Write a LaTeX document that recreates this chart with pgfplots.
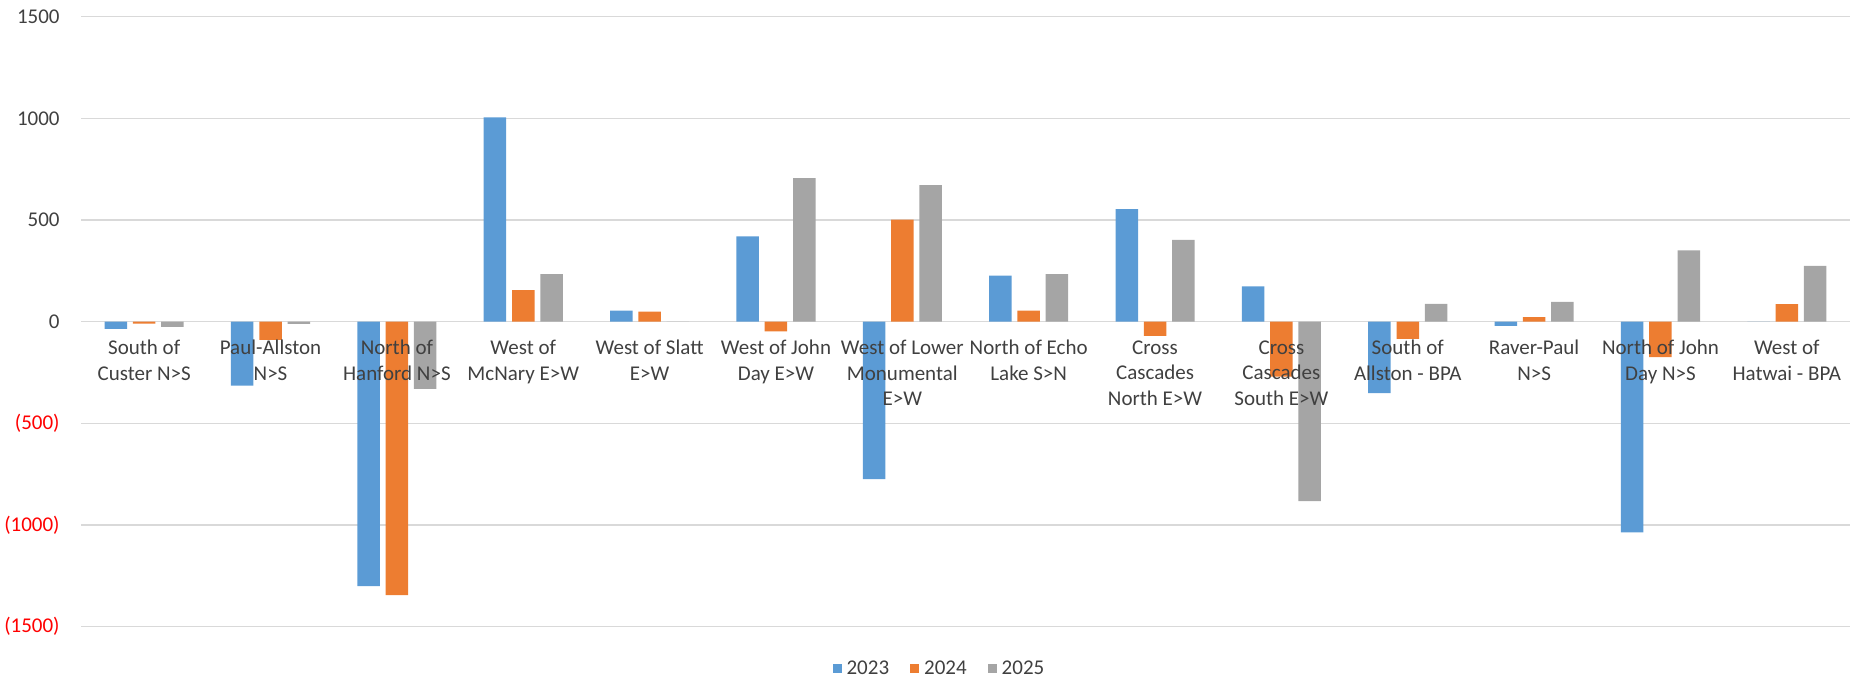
\documentclass[border=0pt]{standalone}
\usepackage{pgfplots}
\pgfplotsset{compat=1.18}
\usepackage{fontspec}
\setmainfont{Carlito}

\definecolor{c23}{HTML}{5B9BD5}
\definecolor{c24}{HTML}{ED7D31}
\definecolor{c25}{HTML}{A5A5A5}
\definecolor{gridc}{HTML}{D9D9D9}
\definecolor{txt}{HTML}{404040}
\definecolor{negred}{HTML}{FF0000}

% tick labels go above the bars, as in the source chart
\pgfplotsset{
  layers/labels on top/.define layer set={
    axis background,axis grid,axis ticks,axis lines,main,
    axis tick labels,axis descriptions,axis foreground
  }{
    grid style={/pgfplots/on layer=axis grid},
    tick style={/pgfplots/on layer=axis ticks},
    axis line style={/pgfplots/on layer=axis lines},
    label style={/pgfplots/on layer=axis descriptions},
    legend style={/pgfplots/on layer=axis descriptions},
    ticklabel style={/pgfplots/on layer=axis tick labels},
  },
}

% idx  y2023  y2024  y2025
\pgfplotstableread{
idx y2023 y2024 y2025
0   -35   -10   -26
1   -315  -89   -11
2   -1300 -1345 -331
3   1005  155   234
4   55    49    0
5   419   -47   706
6   -774  502   672
7   226   55    234
8   553   -70   402
9   174   -270  -883
10  -351  -85   88
11  -20   23    98
12  -1036 -174  351
13  0     87    274
}\flows

\begin{document}
\begin{tikzpicture}
\begin{axis}[
  set layers=labels on top,
  at={(40.5pt,26.15pt)}, anchor=south west,
  width=884.5pt, height=305pt, scale only axis,
  ybar=2.9pt, bar width=11.25pt,
  xmin=-0.5, xmax=13.5,
  ymin=-1500, ymax=1500,
  axis line style={draw=none},
  major tick length=0pt,
  ymajorgrids, grid style={gridc, line width=0.75pt},
  ytick={-1500,-1000,-500,0,500,1000,1500},
  yticklabels={\textcolor{negred}{(1500)},\textcolor{negred}{(1000)},\textcolor{negred}{(500)},0,500,1000,1500},
  yticklabel style={anchor=east, inner sep=0pt, xshift=-10.5pt, text=txt, font=\fontsize{10.5}{12.8}\selectfont},
  xtick=data,
  xticklabels={{South of\\Custer N>S},{Paul-Allston\\N>S},{North of\\Hanford N>S},{West of\\McNary E>W},{West of Slatt\\E>W},{West of John\\Day E>W},{West of Lower\\Monumental\\E>W},{North of Echo\\Lake S>N},{Cross\\Cascades\\North E>W},{Cross\\Cascades\\South E>W},{South of\\Allston - BPA},{Raver-Paul\\N>S},{North of John\\Day N>S},{West of\\Hatwai - BPA}},
  xticklabel style={anchor=north, inner sep=0pt, yshift=143.35pt, align=center, text=txt, font=\fontsize{10.5}{12.8}\selectfont},
  legend columns=3,
  legend style={at={(0.4847,-0.0693)}, anchor=center, draw=none, fill=none,
    font=\fontsize{10.5}{12.8}\selectfont, text=txt,
    nodes={inner sep=0pt},
    /tikz/every odd column/.append style={column sep=2.5pt},
    /tikz/every even column/.append style={column sep=10.5pt}},
  legend image code/.code={\path[#1, draw=none] (0pt,-2.25pt) rectangle (4.5pt,2.25pt);},
]
\addplot[fill=c23, draw=none] table[x=idx, y=y2023] {\flows};
\addplot[fill=c24, draw=none] table[x=idx, y=y2024] {\flows};
\addplot[fill=c25, draw=none] table[x=idx, y=y2025] {\flows};
\legend{2023,2024,2025}
\end{axis}
\pgfresetboundingbox
\path (0,0) rectangle (925.5pt,339.5pt);
\end{tikzpicture}
\end{document}
